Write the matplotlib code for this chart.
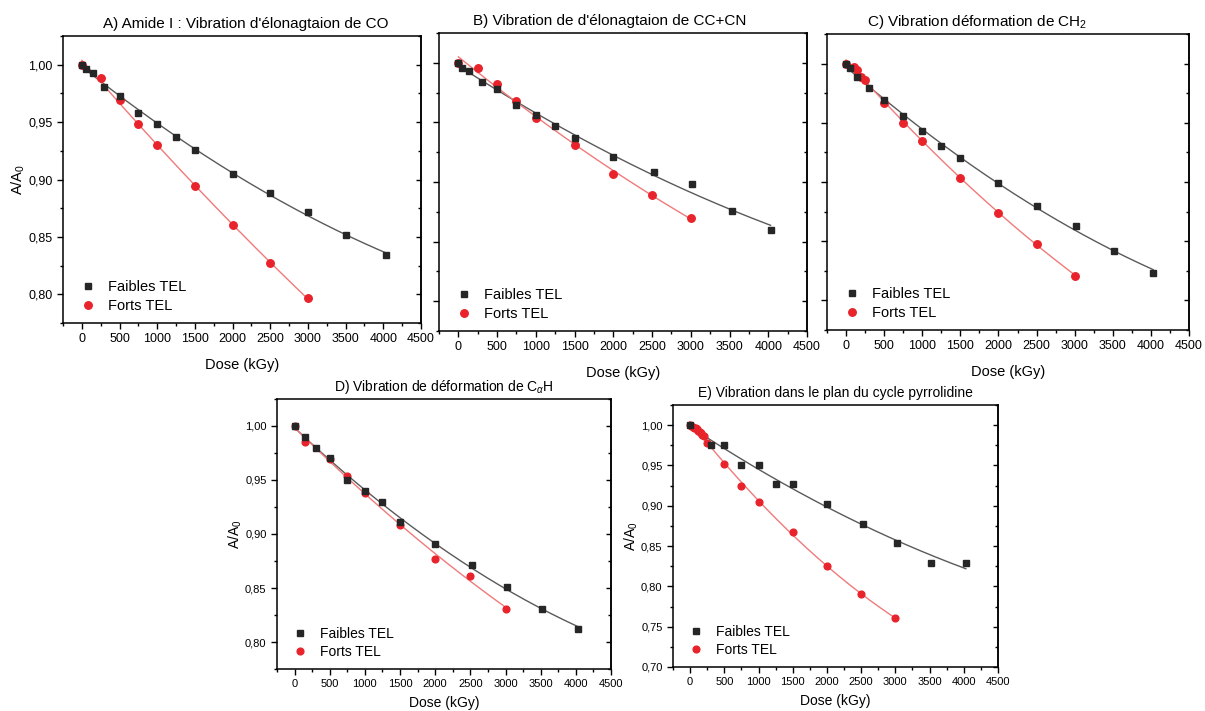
import matplotlib
matplotlib.use("Agg")
import matplotlib.pyplot as plt
import numpy as np
from matplotlib.ticker import MultipleLocator, FuncFormatter

plt.rcParams['font.family'] = ['Liberation Sans', 'DejaVu Sans']
plt.rcParams['mathtext.fontset'] = 'custom'
plt.rcParams['mathtext.rm'] = 'Liberation Sans'
plt.rcParams['mathtext.it'] = 'Liberation Sans:italic'

# ---- data (dose in kGy, A/A0) ----
titles = ["A) Amide I : Vibration d'élonagtaion de CO",
          "B) Vibration de d'élonagtaion de CC+CN",
          "C) Vibration déformation de CH$_2$",
          "D) Vibration de déformation de C$_\\alpha$H",
          "E) Vibration dans le plan du cycle pyrrolidine"]

a_faible_x = [0, 50, 150, 300, 500, 750, 1000, 1250, 1500, 2000, 2500, 3000, 3500, 4030]
a_faible_y = [1.000, 0.996, 0.993, 0.981, 0.973, 0.958, 0.948, 0.937, 0.926, 0.905, 0.888, 0.872, 0.852, 0.834]
a_fort_x = [0, 250, 500, 750, 1000, 1500, 2000, 2500, 3000]
a_fort_y = [1.000, 0.988, 0.969, 0.948, 0.930, 0.894, 0.860, 0.827, 0.797]

b_faible_x = [0, 50, 140, 300, 500, 750, 1000, 1250, 1500, 2000, 2520, 3020, 3530, 4030]
b_faible_y = [1.000, 0.996, 0.993, 0.984, 0.978, 0.965, 0.956, 0.947, 0.937, 0.921, 0.908, 0.898, 0.876, 0.860]
b_fort_x = [0, 250, 500, 750, 1000, 1500, 2000, 2500, 3000]
b_fort_y = [1.000, 0.996, 0.982, 0.968, 0.954, 0.931, 0.907, 0.889, 0.870]

c_faible_x = [0, 50, 150, 300, 500, 750, 1000, 1250, 1500, 2000, 2500, 3020, 3520, 4030]
c_faible_y = [1.000, 0.996, 0.989, 0.979, 0.969, 0.956, 0.943, 0.930, 0.920, 0.899, 0.880, 0.863, 0.842, 0.823]
c_fort_x = [0, 100, 150, 200, 250, 500, 750, 1000, 1500, 2000, 2500, 3000]
c_fort_y = [1.000, 0.997, 0.995, 0.989, 0.986, 0.967, 0.950, 0.935, 0.903, 0.874, 0.848, 0.821]

d_faible_x = [0, 150, 300, 500, 750, 1000, 1250, 1500, 2000, 2520, 3020, 3520, 4030]
d_faible_y = [1.000, 0.990, 0.980, 0.970, 0.950, 0.940, 0.930, 0.911, 0.891, 0.871, 0.851, 0.831, 0.812]
d_fort_x = [0, 150, 500, 750, 1000, 1500, 2000, 2500, 3000]
d_fort_y = [1.000, 0.985, 0.969, 0.954, 0.938, 0.908, 0.877, 0.861, 0.831]

e_faible_x = [0, 300, 500, 750, 1000, 1250, 1500, 2000, 2520, 3020, 3520, 4030]
e_faible_y = [1.000, 0.976, 0.976, 0.951, 0.951, 0.927, 0.927, 0.902, 0.878, 0.854, 0.829, 0.829]
e_fort_x = [0, 20, 40, 60, 80, 100, 120, 140, 160, 180, 200, 250, 500, 750, 1000, 1500, 2000, 2500, 3000]
e_fort_y = [1.000, 0.999, 0.998, 0.997, 0.996, 0.995, 0.993, 0.992, 0.990, 0.988, 0.986, 0.978,
            0.952, 0.925, 0.905, 0.867, 0.825, 0.790, 0.761]

panels = [
    (a_faible_x, a_faible_y, a_fort_x, a_fort_y),
    (b_faible_x, b_faible_y, b_fort_x, b_fort_y),
    (c_faible_x, c_faible_y, c_fort_x, c_fort_y),
    (d_faible_x, d_faible_y, d_fort_x, d_fort_y),
    (e_faible_x, e_faible_y, e_fort_x, e_fort_y),
]

W, H = 1205, 711
# pixel boxes (left, top, right, bottom)
boxes = [(63, 36, 421, 323), (439, 33, 807, 331), (827, 34, 1189, 330),
         (277, 399, 611, 669), (673, 405, 998, 667)]
ylims = [(0.775, 1.025)] * 4 + [(0.70, 1.025)]
title_x = [0.51, 0.465, 0.415, 0.5, 0.5]
show_y = [True, False, False, True, True]
small = [False, False, False, True, True]

BLACK = '#262626'
RED = '#e8232b'

fig = plt.figure(figsize=(W / 100, H / 100), dpi=100)
fmt = FuncFormatter(lambda v, p: f"{v:.2f}".replace('.', ','))

for i, (fx, fy, rx, ry) in enumerate(panels):
    l, t, r, b = boxes[i]
    ax = fig.add_axes([l / W, 1 - b / H, (r - l) / W, (b - t) / H])
    tfs = 9 if not small[i] else 8
    lfs = 10.5 if not small[i] else 10

    # fitted curves
    for xs, ys, c in [(fx, fy, '#5a5a5a'), (rx, ry, '#f07a7a')]:
        p = np.polyfit(xs, ys, 2)
        xx = np.linspace(0, max(xs), 200)
        ax.plot(xx, np.polyval(p, xx), color=c, lw=1.0, zorder=1)

    ms = 1.0 if not small[i] else 0.9
    ax.plot(fx, fy, 's', color=BLACK, ms=4.6 * ms, ls='none', label='Faibles TEL', zorder=3)
    ax.plot(rx, ry, 'o', color=RED, ms=5.4 * ms, ls='none', label='Forts TEL', zorder=2)

    ax.set_xlim(-250, 4500)
    ax.set_ylim(*ylims[i])
    ax.xaxis.set_major_locator(MultipleLocator(500))
    ax.xaxis.set_minor_locator(MultipleLocator(250))
    ax.yaxis.set_major_locator(MultipleLocator(0.05))
    ax.yaxis.set_minor_locator(MultipleLocator(0.025))
    ax.yaxis.set_major_formatter(fmt)
    ax.tick_params(which='both', direction='out', labelsize=tfs)
    ax.tick_params(which='major', length=4, width=1)
    ax.tick_params(which='minor', length=2.5, width=1)
    ax.tick_params(axis='y', which='both', labelleft=show_y[i])
    for s in ax.spines.values():
        s.set_linewidth(1.1)

    # inward ticks on the right side
    sec = ax.secondary_yaxis('right')
    sec.yaxis.set_major_locator(MultipleLocator(0.05))
    sec.yaxis.set_minor_locator(MultipleLocator(0.025))
    sec.tick_params(which='both', direction='in', labelright=False, width=1)
    sec.tick_params(which='major', length=3.5)
    sec.tick_params(which='minor', length=2.5)
    sec.spines['right'].set_linewidth(1.1)

    ax.set_xlabel('Dose (kGy)', fontsize=lfs, labelpad=9 if not small[i] else 5)
    if show_y[i]:
        ax.set_ylabel('A/A$_0$', fontsize=lfs, labelpad=1)
    ax.set_title(titles[i], fontsize=11 if not small[i] else 10, x=title_x[i], pad=6)

    ax.legend(loc='lower left', frameon=False, fontsize=lfs, handlelength=1.0,
              handletextpad=0.9, labelspacing=0.3, borderaxespad=0.3,
              bbox_to_anchor=(0.02, 0.0))

fig.savefig('out.png', dpi=100)
